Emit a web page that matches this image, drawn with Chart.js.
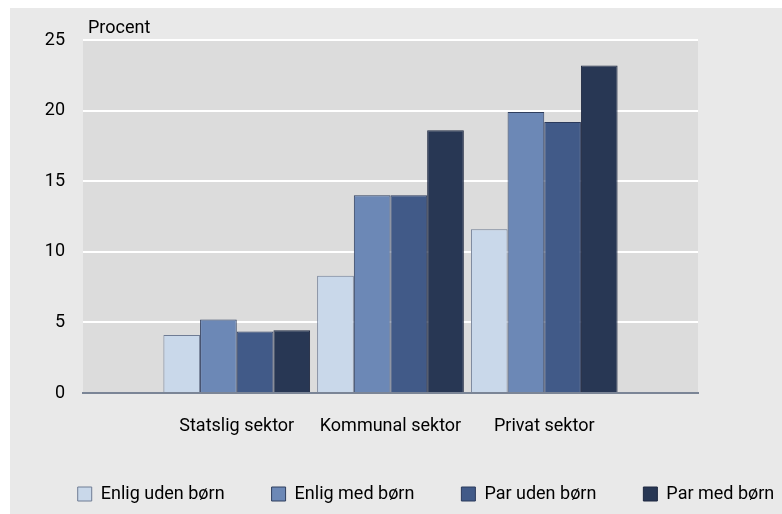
<!DOCTYPE html>
<html>
<head>
<meta charset="utf-8">
<script src="https://cdn.jsdelivr.net/npm/chart.js@4/dist/chart.umd.min.js"></script>
<style>
  html, body { margin: 0; padding: 0; background: #ffffff; }
  #wrap { width: 782px; height: 514px; }
</style>
</head>
<body>
<div id="wrap"><canvas id="c" width="782" height="514"></canvas></div>
<script>
const categories = ["Statslig sektor", "Kommunal sektor", "Privat sektor"];
const seriesNames = ["Enlig uden børn", "Enlig med børn", "Par uden børn", "Par med børn"];
const enligUdenBorn = [4.1, 8.3, 11.6];
const enligMedBorn = [5.2, 14.0, 19.9];
const parUdenBorn = [4.35, 14.0, 19.2];
const parMedBorn = [4.45, 18.6, 23.2];
const yTicks = [0, 5, 10, 15, 20, 25];
const yTitle = "Procent";

const fills = ["#c9d8ea", "#6c88b6", "#415a88", "#283754"];
const borders = ["#6f7c94", "#2f3e5e", "#2b3a5c", "#1e2840"];
const FONT = "Roboto";
const FS = 18;

// empty slot at both ends, as in the reference
const labels = ["", ...categories, ""];
const pad = arr => [null, ...arr, null];
const allSeries = [enligUdenBorn, enligMedBorn, parUdenBorn, parMedBorn];

const datasets = allSeries.map((s, i) => ({
  label: seriesNames[i],
  data: pad(s),
  backgroundColor: fills[i],
  borderColor: borders[i],
  borderWidth: 1,
  barPercentage: 1,
  categoryPercentage: 0.954,
  xAxisID: 'x',
  yAxisID: 'y'
}));

const bgPlugin = {
  id: 'bg',
  beforeDraw(chart) {
    const ctx = chart.ctx, a = chart.chartArea;
    ctx.save();
    ctx.fillStyle = '#ffffff';
    ctx.fillRect(0, 0, chart.width, chart.height);
    ctx.fillStyle = '#e9e9e9';
    ctx.fillRect(10, 8, chart.width - 10, chart.height - 8);
    ctx.fillStyle = '#dcdcdc';
    ctx.fillRect(a.left, a.top, a.right - a.left, a.bottom - a.top);
    ctx.restore();
  },
  afterDraw(chart) {
    const ctx = chart.ctx, a = chart.chartArea;
    ctx.save();
    ctx.fillStyle = '#000000';
    ctx.font = FS + 'px ' + FONT;
    ctx.textAlign = 'left';
    ctx.textBaseline = 'alphabetic';
    ctx.fillText(yTitle, a.left + 5, a.top - 7);
    ctx.restore();
  }
};

new Chart(document.getElementById('c'), {
  type: 'bar',
  data: { labels: labels, datasets: datasets },
  plugins: [bgPlugin],
  options: {
    responsive: false,
    animation: false,
    devicePixelRatio: 1,
    layout: { padding: { left: 10, right: -60, top: 40, bottom: 1 } },
    plugins: {
      tooltip: { enabled: false },
      legend: {
        position: 'bottom',
        labels: {
          boxWidth: 14,
          boxHeight: 14,
          padding: 47,
          color: '#000000',
          font: { family: FONT, size: FS }
        }
      }
    },
    scales: {
      x: {
        offset: false,
        grid: { display: false, drawTicks: false },
        border: { display: true, color: '#7b8596', width: 2 },
        ticks: {
          autoSkip: false,
          maxRotation: 0,
          padding: 23,
          color: '#000000',
          font: { family: FONT, size: FS }
        },
        afterFit(s) { s.height = 45; }
      },
      y: {
        min: 0,
        max: 25,
        afterBuildTicks(s) { s.ticks = yTicks.map(v => ({ value: v })); },
        grid: {
          color: c => (c.tick && c.tick.value === 0) ? 'rgba(0,0,0,0)' : '#ffffff',
          lineWidth: 2,
          drawTicks: false
        },
        border: { display: false },
        ticks: {
          padding: 18,
          color: '#000000',
          font: { family: FONT, size: FS }
        },
        afterFit(s) { s.width = 73; }
      },
      y2: {
        position: 'right',
        display: true,
        grid: { display: false },
        border: { display: false },
        ticks: { display: false },
        afterFit(s) { s.width = 144; }
      }
    }
  }
});
</script>
</body>
</html>
